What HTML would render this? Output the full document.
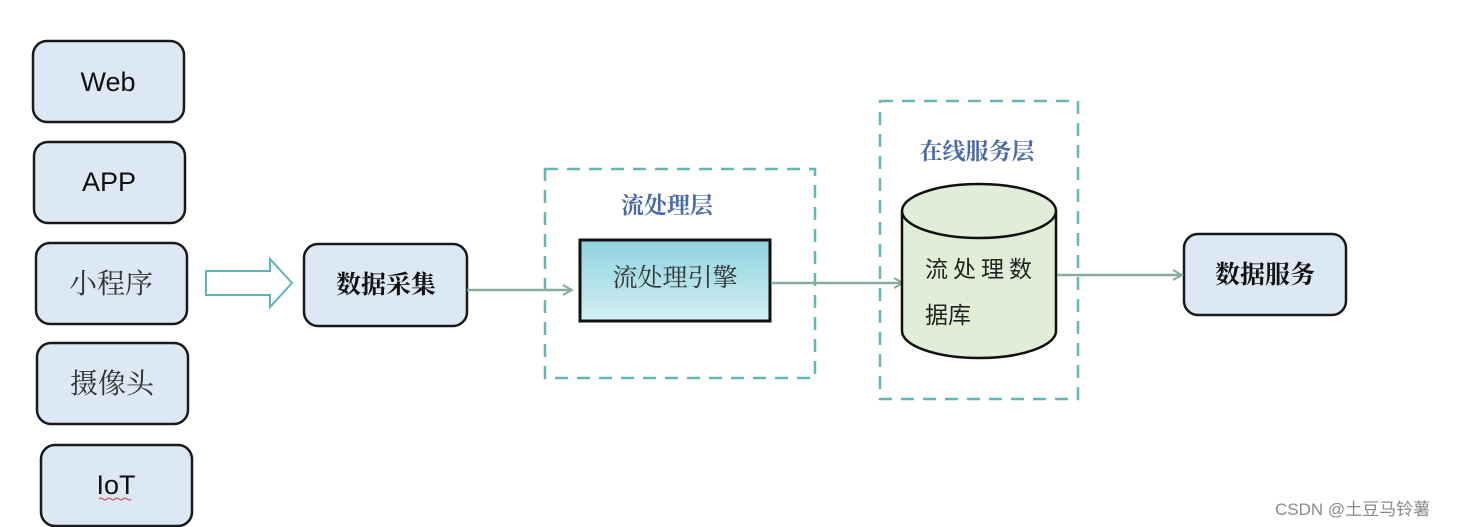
<!DOCTYPE html>
<html><head><meta charset="utf-8"><style>
html,body{margin:0;padding:0;background:#fff;}
svg{display:block;}
text{font-family:"Liberation Sans","Noto Sans CJK SC",sans-serif;}
.s{font-family:"Noto Serif CJK SC","Liberation Serif",serif;}
</style></head><body>
<svg width="1461" height="527" viewBox="0 0 1461 527" xmlns="http://www.w3.org/2000/svg">
<defs>
<linearGradient id="eng" x1="0" y1="0" x2="0" y2="1"><stop offset="0" stop-color="#8fd3df"/><stop offset="1" stop-color="#d3eff3"/></linearGradient>
<marker id="ah" markerWidth="12" markerHeight="12" refX="10" refY="6" orient="auto" markerUnits="userSpaceOnUse"><path d="M1,1 L10,6 L1,11" fill="none" stroke="#8aaa9c" stroke-width="2"/></marker>
</defs>
<g stroke="#1a1a1a" stroke-width="2.5" fill="#dce8f4">
<rect x="33" y="41" width="151" height="81" rx="14"/>
<rect x="34" y="142" width="151" height="81" rx="14"/>
<rect x="36" y="243" width="151" height="81" rx="14"/>
<rect x="37" y="343" width="151" height="81" rx="14"/>
<rect x="41" y="445" width="151" height="81" rx="14"/>
<rect x="304" y="244" width="163" height="82" rx="14"/>
<rect x="1184" y="234" width="162" height="81" rx="14"/>
</g>
<g font-size="27" fill="#111" text-anchor="middle">
<text x="108" y="91">Web</text>
<text x="109" y="191">APP</text>
<text x="111" y="293" class="s" font-size="28" fill="#333">小程序</text>
<text x="112" y="393" class="s" font-size="28" fill="#333">摄像头</text>
<text x="116" y="494">IoT</text>
</g>
<path d="M99,499 q2,-2 4,0 t4,0 t4,0 t4,0 t4,0 t4,0 t4,0 t4,0" stroke="#d04040" fill="none" stroke-width="1"/>
<path d="M206,271 L270,271 L270,259 L292,283 L270,307 L270,295 L206,295 Z" fill="#fff" stroke="#5fb5b5" stroke-width="2"/>
<text x="386" y="293" class="s" font-size="25" font-weight="bold" text-anchor="middle" fill="#111">数据采集</text>
<rect x="545" y="169" width="270" height="209" fill="none" stroke="#4aa9a9" stroke-width="2.5" stroke-dasharray="13,9" opacity="0.85"/>
<text x="667" y="213" class="s" font-size="23" font-weight="bold" text-anchor="middle" fill="#4a6aa8">流处理层</text>
<line x1="467" y1="290" x2="572" y2="290" stroke="#8aaa9c" stroke-width="2.5" marker-end="url(#ah)"/>
<rect x="580" y="240" width="190" height="81" fill="url(#eng)" stroke="#111" stroke-width="3"/>
<text x="675" y="286" class="s" font-size="25" text-anchor="middle" fill="#333">流处理引擎</text>
<line x1="771" y1="283" x2="903" y2="283" stroke="#8aaa9c" stroke-width="2.5" marker-end="url(#ah)"/>
<rect x="880" y="101" width="198" height="298" fill="none" stroke="#4aa9a9" stroke-width="2.5" stroke-dasharray="13,9" opacity="0.85"/>
<text x="977" y="159" class="s" font-size="23" font-weight="bold" text-anchor="middle" fill="#4a6aa8">在线服务层</text>
<path d="M902,211 L902,331 A77,27 0 0 0 1056,331 L1056,211" fill="#e1eed7" stroke="#111" stroke-width="2.5"/>
<ellipse cx="979" cy="211" rx="77" ry="27" fill="#e1eed7" stroke="#111" stroke-width="2.5"/>
<text x="925" y="277" font-size="23" fill="#222" letter-spacing="5">流处理数</text>
<text x="925" y="323" font-size="23" fill="#222">据库</text>
<line x1="1057" y1="275" x2="1182" y2="275" stroke="#8aaa9c" stroke-width="2.5" marker-end="url(#ah)"/>
<text x="1265" y="283" class="s" font-size="25" font-weight="bold" text-anchor="middle" fill="#111">数据服务</text>
<text x="1275" y="515" font-size="17" fill="#8a8a8a">CSDN @土豆马铃薯</text>
</svg>
</body></html>
